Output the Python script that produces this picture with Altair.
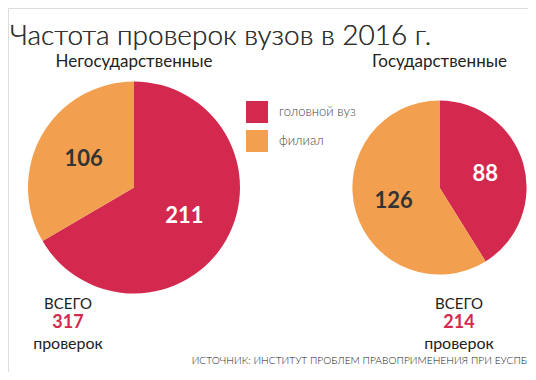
import math
import altair as alt
import pandas as pd

# ---- data ----
groups = ["Негосударственные", "Государственные"]
kinds = ["головной вуз", "филиал"]
head_counts = [211, 88]      # головной вуз
branch_counts = [106, 126]   # филиал
colors = ["#D4294E", "#F2A04F"]

title_text = "Частота проверок вузов в 2016 г."
source_text = "ИСТОЧНИК: ИНСТИТУТ ПРОБЛЕМ ПРАВОПРИМЕНЕНИЯ ПРИ ЕУСПБ"

# ---- table ----
rows = []
for g, h, b in zip(groups, head_counts, branch_counts):
    total = h + b
    cum = 0
    for k, v in zip(kinds, [h, b]):
        rows.append(dict(group=g, kind=k, value=v, total=total,
                         start=cum / total, end=(cum + v) / total,
                         mid=(cum + v / 2) / total))
        cum += v
df = pd.DataFrame(rows)
tot_df = pd.DataFrame({"group": groups,
                       "total": [h + b for h, b in zip(head_counts, branch_counts)]})

W, H = 520, 364
FONT = "Lato"

xs = alt.X("group:N", scale=alt.Scale(domain=groups, range=[126, 431.5], padding=0), axis=None)
ys = alt.Y("group:N", scale=alt.Scale(domain=groups, range=[179.5, 179.5], padding=0), axis=None)
theta_scale = alt.Scale(domain=[0, 1], range=[0, 2 * math.pi])

pies = alt.Chart(df).mark_arc(strokeWidth=0).encode(
    x=xs, y=ys,
    theta=alt.Theta("start:Q", scale=theta_scale, stack=None),
    theta2="end:Q",
    radius=alt.Radius("total:Q", scale=alt.Scale(type="sqrt", domain=[0, 317], range=[0, 106])),
    color=alt.Color("kind:N", scale=alt.Scale(domain=kinds, range=colors),
                    legend=alt.Legend(title=None, orient="none", legendX=238, legendY=93,
                                      symbolType="square", symbolSize=484, symbolStrokeWidth=0,
                                      symbolOpacity=1, rowPadding=7, labelOffset=11,
                                      labelFontSize=13, labelFont=FONT, labelFontWeight=300,
                                      labelColor="#444", padding=0)),
)

labels = alt.Chart(df).mark_text(font=FONT, fontSize=22, fontWeight="bold").encode(
    x=xs, y=ys,
    theta=alt.Theta("mid:Q", scale=theta_scale, stack=None),
    radius=alt.Radius("total:Q", scale=alt.Scale(type="sqrt", domain=[0, 317], range=[0, 58])),
    text="value:N",
    color=alt.condition(f"datum.kind === '{kinds[0]}'", alt.value("white"), alt.value("#333")),
)

subtitles = alt.Chart(tot_df).mark_text(font=FONT, fontSize=17, color="#222", baseline="alphabetic").encode(
    x=xs, y=alt.value(59), text="group:N")

title = alt.Chart(tot_df).mark_text(font=FONT, fontSize=28, fontWeight=300, color="#333",
                                    align="left", baseline="alphabetic").encode(
    x=alt.value(2), y=alt.value(37), text=alt.value(title_text))

def total_block(i, xpos):
    d = tot_df.iloc[[i]]
    a = alt.Chart(d).mark_text(font=FONT, fontSize=15, color="#222").encode(
        x=alt.value(xpos), y=alt.value(295.5), text=alt.value("ВСЕГО"))
    b = alt.Chart(d).mark_text(font=FONT, fontSize=18, fontWeight="bold", color=colors[0]).encode(
        x=alt.value(xpos), y=alt.value(315), text="total:N")
    c = alt.Chart(d).mark_text(font=FONT, fontSize=16, color="#222").encode(
        x=alt.value(xpos), y=alt.value(336), text=alt.value("проверок"))
    return a + b + c

source = alt.Chart(tot_df.iloc[[0]]).mark_text(font=FONT, fontSize=10.2, fontWeight=300, color="#222",
                                               align="right").encode(
    x=alt.value(519), y=alt.value(353), text=alt.value(source_text))

chart = alt.layer(pies, labels, subtitles, title, total_block(0, 60), total_block(1, 451), source).resolve_scale(
    radius="independent"
).properties(
    width=W, height=H, autosize=alt.AutoSizeParams(type="none"), padding=0
).configure_view(stroke=None).configure(background="white")

chart.save("out.html", embed_options={"renderer": "svg", "actions": False})
